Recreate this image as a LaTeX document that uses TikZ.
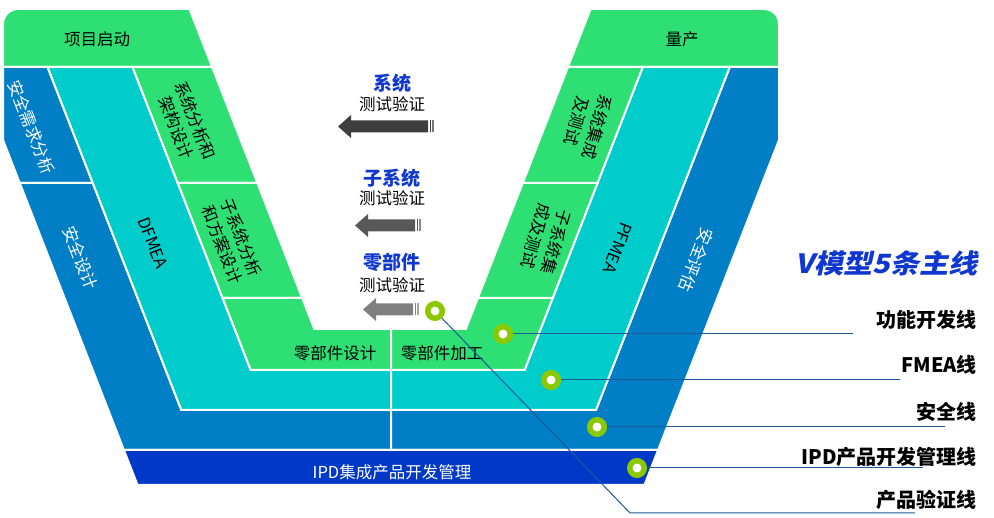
\documentclass[tikz,border=0pt]{standalone}
\usepackage{fontspec}
\setmainfont{Noto Sans CJK SC}
\newfontfamily\titlefont{Noto Sans CJK SC}[FakeSlant=0.2,BoldFeatures={FakeSlant=0.2}]
\definecolor{vgreen}{RGB}{46,224,116}
\definecolor{vteal}{RGB}{0,204,204}
\definecolor{vblue}{RGB}{0,126,198}
\definecolor{vdark}{RGB}{0,57,200}
\definecolor{vring}{RGB}{140,200,0}
\definecolor{vtitle}{RGB}{16,56,208}
\definecolor{vline}{RGB}{26,90,154}
\definecolor{arrA}{RGB}{62,62,62}
\definecolor{arrB}{RGB}{88,88,88}
\definecolor{arrC}{RGB}{128,128,128}
\tikzset{
  region/.style={draw=white, line width=2pt},
  lbl/.style={font=\fontsize{16.5}{21}\selectfont, inner sep=0pt, align=center},
  slantL/.style={lbl, rotate=-68.7},
  slantR/.style={lbl, rotate=-111.3},
  slantRg/.style={lbl, rotate=-106},
  ring/.style={circle, draw=vring, line width=5.5pt, fill=white, minimum size=14.5pt, inner sep=0pt},
  leader/.style={draw=vline, line width=1pt},
  mainline/.style={font=\fontsize{20}{24}\selectfont\bfseries, anchor=east, inner sep=0pt},
  bluehead/.style={font=\fontsize{19}{22}\selectfont\bfseries, text=vtitle, inner sep=0pt},
}
\begin{document}
\begin{tikzpicture}[x=1pt,y=-1pt]
\useasboundingbox (0,0) rectangle (994,518);
% top bands
\fill[vgreen, region] (3,67) -- (3,24) .. controls (3,15.7) and (9.7,9) .. (18,9) -- (189.51,9) -- (212.13,67) -- cycle;
\fill[vgreen, region] (590.59,9) -- (764,9) .. controls (772.3,9) and (779,15.7) .. (779,24) -- (779,67) -- (567.97,67) -- cycle;
% blue
\fill[vblue, region] (3,67) -- (47.53,67) -- (92.77,183) -- (19.77,183) -- (3,140) -- cycle;
\fill[vblue, region] (19.77,183) -- (92.77,183) -- (181.3,410) -- (391,410) -- (391,450) -- (123.9,450) -- cycle;
\fill[vblue, region] (729.77,67) -- (779,67) -- (779,140) -- (658.1,450) -- (391,450) -- (391,410) -- (596.0,410) -- cycle;
% teal
\fill[vteal, region] (47.53,67) -- (132.53,67) -- (250.7,370) -- (391,370) -- (391,410) -- (181.3,410) -- cycle;
\fill[vteal, region] (642.77,67) -- (729.77,67) -- (596.0,410) -- (391,410) -- (391,370) -- (524.6,370) -- cycle;
% green columns
\fill[vgreen, region] (132.53,67) -- (212.13,67) -- (257.37,183) -- (177.77,183) -- cycle;
\fill[vgreen, region] (177.77,183) -- (257.37,183) -- (302.22,298) -- (222.62,298) -- cycle;
\fill[vgreen, region] (222.62,298) -- (302.22,298) -- (314.31,329) -- (391,329) -- (391,370) -- (250.7,370) -- cycle;
\fill[vgreen, region] (391,329) -- (465.79,329) -- (477.88,298) -- (552.68,298) -- (524.6,370) -- (391,370) -- cycle;
\fill[vgreen, region] (477.88,298) -- (552.68,298) -- (597.53,183) -- (522.73,183) -- cycle;
\fill[vgreen, region] (522.73,183) -- (597.53,183) -- (642.77,67) -- (567.97,67) -- cycle;
% IPD band
\fill[vdark, region] (123.9,450) -- (658.1,450) -- (644.45,485) -- (137.55,485) -- cycle;

% texts in the V
\node[lbl] (t1) at (97,39) {项目启动};
\node[lbl] (t2) at (682,39) {量产};
\node[slantL, text=white] (t3) at (31,127) {安全需求分析};
\node[slantL, text=white] (t4) at (80,258) {安全设计};
\node[slantL] (t5) at (153,243) {DFMEA};
\node[slantL] (t6) at (186,124) {系统分析和\\架构设计};
\node[slantL] (t7) at (232,241) {子系统分析\\和方案设计};
\node[lbl] (t8) at (335,353) {零部件设计};
\node[lbl] (t9) at (442,353) {零部件加工};
\node[lbl, text=white] (t10) at (392,472) {IPD集成产品开发管理};
\node[slantRg] (t11) at (587,124) {系统集成\\及测试};
\node[slantRg] (t12) at (546,239) {子系统集\\成及测试};
\node[slantR] (t13) at (618,248) {PFMEA};
\node[slantR, text=white] (t14) at (696,260) {安全评估};

% verification labels and arrows
\node[bluehead] (h1) at (392,83) {系统};
\node[lbl] (s1) at (392,104) {测试验证};
\node[bluehead] (h2) at (392,178) {子系统};
\node[lbl] (s2) at (392,198) {测试验证};
\node[bluehead] (h3) at (392,262) {零部件};
\node[lbl] (s3) at (392,285) {测试验证};

\fill[arrA] (338,126.5) -- (351,115) -- (351,120.5) -- (428,120.5) -- (428,132.5) -- (351,132.5) -- (351,138) -- cycle;
\fill[arrA] (429.5,120.5) rectangle (431,132.5);
\fill[arrA!70] (432.3,120.5) rectangle (433.5,132.5);
\fill[arrB] (355,225.5) -- (368,214) -- (368,219.5) -- (415,219.5) -- (415,231.5) -- (368,231.5) -- (368,237) -- cycle;
\fill[arrB] (416.5,219.5) rectangle (418,231.5);
\fill[arrB!70] (419.3,219.5) rectangle (420.5,231.5);
\fill[arrC] (363,309.5) -- (376,298) -- (376,303.5) -- (413,303.5) -- (413,315.5) -- (376,315.5) -- (376,321) -- cycle;
\fill[arrC] (414.5,303.5) rectangle (416,315.5);
\fill[arrC!70] (417.3,303.5) rectangle (418.5,315.5);

% rings
\node[ring] (r1) at (435,311) {};
\node[ring] (r2) at (503,334) {};
\node[ring] (r3) at (551,380) {};
\node[ring] (r4) at (597,427) {};
\node[ring] (r5) at (637,468) {};
\coordinate (c1) at (630,513);
\coordinate (e1) at (915,513);
\coordinate (e2) at (853,334);
\coordinate (e3) at (900,380);
\coordinate (e4) at (945,427);
\coordinate (e5) at (923,468);
\draw[leader] (r1) -- (c1) -- (e1);
\draw[leader] (r2) -- (e2);
\draw[leader] (r3) -- (e3);
\draw[leader] (r4) -- (e4);
\draw[leader] (r5) -- (e5);

% right legend
\node[anchor=east, inner sep=0pt, text=vtitle, font={\titlefont\fontsize{26.5}{30}\selectfont\bfseries}] (title) at (978,263) {\scalebox{1.1}[1]{V模型5条主线}};
\node[mainline] (m1) at (977,320) {功能开发线};
\node[mainline] (m2) at (977,365) {FMEA线};
\node[mainline] (m3) at (977,412) {安全线};
\node[mainline] (m4) at (977,457) {IPD产品开发管理线};
\node[mainline] (m5) at (977,500) {产品验证线};
\end{tikzpicture}
\end{document}
